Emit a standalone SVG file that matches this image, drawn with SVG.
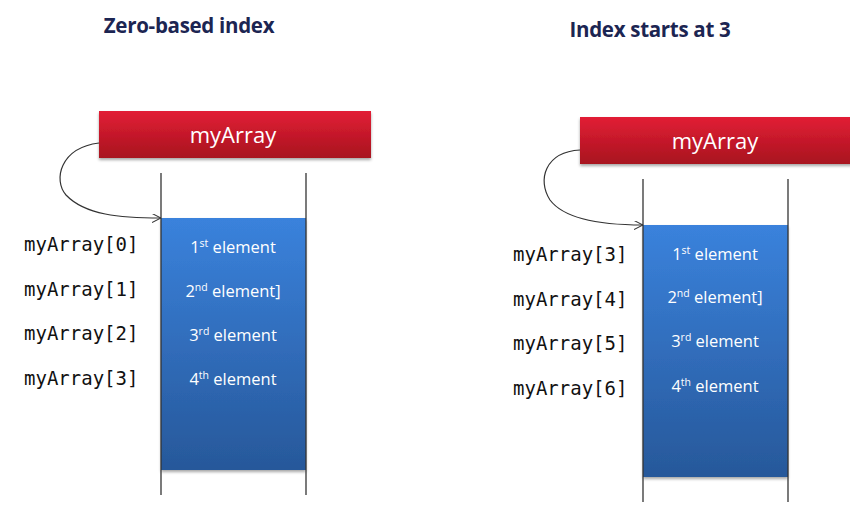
<svg xmlns="http://www.w3.org/2000/svg" width="850" height="519" viewBox="0 0 850 519">
<defs>
<linearGradient id="red" x1="0" y1="0" x2="0" y2="1">
<stop offset="0" stop-color="#e21f35"/>
<stop offset="1" stop-color="#a8121f"/>
</linearGradient>
<linearGradient id="blue" x1="0" y1="0" x2="0" y2="1">
<stop offset="0" stop-color="#3a82dc"/>
<stop offset="1" stop-color="#27589a"/>
</linearGradient>
<filter id="sh" x="-10%" y="-10%" width="120%" height="130%">
<feDropShadow dx="0" dy="2" stdDeviation="1.5" flood-color="#000" flood-opacity="0.35"/>
</filter>
<marker id="arr" viewBox="0 0 10 10" refX="10" refY="5" markerWidth="9" markerHeight="9" markerUnits="userSpaceOnUse" orient="auto">
<path d="M0,0 L10,5 L0,10" fill="none" stroke="#333" stroke-width="1.2"/>
</marker>
</defs>
<style>
.title{font-family:"Open Sans","Liberation Sans",sans-serif;font-weight:bold;font-size:20.5px;fill:#1c2552;text-anchor:middle;letter-spacing:-0.3px}
.bar{font-family:"Open Sans","Liberation Sans",sans-serif;font-size:22px;fill:#fff;text-anchor:middle}
.el{font-family:"Open Sans","Liberation Sans",sans-serif;font-size:16.5px;fill:#fff;text-anchor:middle}
.sup{font-size:10.5px}
.idx{font-family:"DejaVu Sans Mono","Liberation Mono",monospace;font-size:19px;fill:#111}
.wall{stroke:#333;stroke-width:1.3}
.conn{fill:none;stroke:#333;stroke-width:1.2}
</style>
<rect width="850" height="519" fill="#fff"/>
<text class="title" x="189" y="33">Zero-based index</text>
<text class="title" x="650" y="37">Index starts at 3</text>

<g id="left-array">
<rect x="161" y="218" width="145" height="252" fill="url(#blue)" filter="url(#sh)"/>
<line class="wall" x1="161" y1="173" x2="161" y2="495"/>
<line class="wall" x1="306" y1="173" x2="306" y2="495"/>
<text class="el" x="233" y="253">1<tspan class="sup" dy="-6">st</tspan><tspan dy="6"> element</tspan></text>
<text class="el" x="233" y="297">2<tspan class="sup" dy="-6">nd</tspan><tspan dy="6"> element]</tspan></text>
<text class="el" x="233" y="341">3<tspan class="sup" dy="-6">rd</tspan><tspan dy="6"> element</tspan></text>
<text class="el" x="233" y="385">4<tspan class="sup" dy="-6">th</tspan><tspan dy="6"> element</tspan></text>
</g>
<g id="left-myArray">
<rect x="99" y="111" width="272" height="47" fill="url(#red)" filter="url(#sh)"/>
<text class="bar" x="233" y="143">myArray</text>
</g>
<g id="left-labels">
<text class="idx" x="24" y="251">myArray[0]</text>
<text class="idx" x="24" y="296">myArray[1]</text>
<text class="idx" x="24" y="340">myArray[2]</text>
<text class="idx" x="24" y="385">myArray[3]</text>
</g>

<g id="right-array">
<rect x="643" y="225" width="145" height="252" fill="url(#blue)" filter="url(#sh)"/>
<line class="wall" x1="643" y1="179" x2="643" y2="502"/>
<line class="wall" x1="788" y1="179" x2="788" y2="502"/>
<text class="el" x="715" y="260">1<tspan class="sup" dy="-6">st</tspan><tspan dy="6"> element</tspan></text>
<text class="el" x="715" y="303">2<tspan class="sup" dy="-6">nd</tspan><tspan dy="6"> element]</tspan></text>
<text class="el" x="715" y="347">3<tspan class="sup" dy="-6">rd</tspan><tspan dy="6"> element</tspan></text>
<text class="el" x="715" y="392">4<tspan class="sup" dy="-6">th</tspan><tspan dy="6"> element</tspan></text>
</g>
<g id="right-myArray">
<rect x="580" y="117" width="280" height="47" fill="url(#red)" filter="url(#sh)"/>
<text class="bar" x="715" y="149">myArray</text>
</g>
<g id="right-labels">
<text class="idx" x="513" y="261">myArray[3]</text>
<text class="idx" x="513" y="306">myArray[4]</text>
<text class="idx" x="513" y="350">myArray[5]</text>
<text class="idx" x="513" y="395">myArray[6]</text>
</g>

<g id="connectors">
<path class="conn" marker-end="url(#arr)" d="M99,143 C60,148 53,180 66,195 C85,215 120,218 161,218"/>
<path class="conn" marker-end="url(#arr)" d="M580,150 C545,152 537,180 550,200 C565,220 605,225 643,225"/>
</g>
</svg>
